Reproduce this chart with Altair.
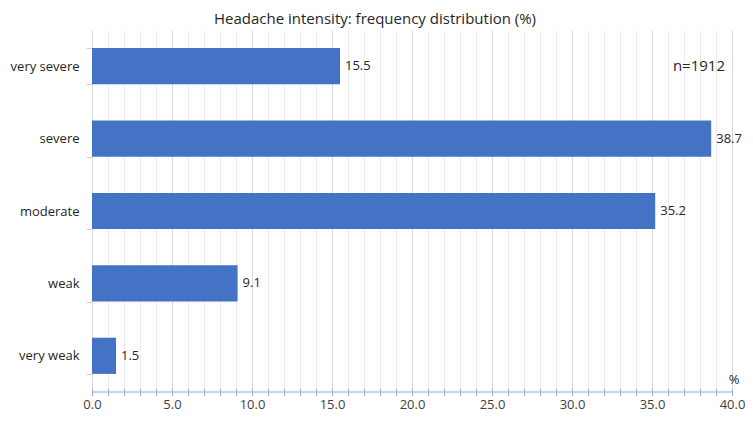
import altair as alt
import pandas as pd

categories = ["very severe", "severe", "moderate", "weak", "very weak"]
values = [15.5, 38.7, 35.2, 9.1, 1.5]
title_text = "Headache intensity: frequency distribution (%)"
n_label = "n=1912"
unit_label = "%"
tick_values = list(range(0, 41))

df = pd.DataFrame({"category": categories, "value": values})

FONT = "Open Sans"
W, H = 640, 362

xscale = alt.Scale(domain=[0, 40], nice=False, zero=True)
yscale = alt.Scale(domain=categories, paddingInner=0.5, paddingOuter=0.25)

xaxis = alt.Axis(
    values=tick_values,
    title=None,
    labelExpr="datum.value % 5 == 0 ? format(datum.value, '.1f') : ''",
    labelFont=FONT, labelFontSize=13, labelColor="#404040",
    labelPadding=3, labelFlush=False, labelOverlap=False,
    grid=True,
    gridColor={"condition": {"test": "datum.value % 5 == 0", "value": "#d9d9d9"}, "value": "#ececec"},
    gridWidth=1,
    domain=False,
    ticks=True, tickSize=7, tickColor="#8faadc", tickWidth=1,
    offset=-3.5,
)

yaxis = alt.Axis(
    title=None,
    labelFont=FONT, labelFontSize=13, labelColor="#262626",
    labelPadding=7,
    ticks=True, tickBand="extent", tickSize=6, tickColor="#d0d0d0",
    domain=False, grid=False,
)

X = lambda: alt.X("value:Q", scale=xscale, axis=xaxis)
Y = lambda: alt.Y("category:N", scale=yscale, sort=categories, axis=yaxis)

base = alt.Chart(df)

bars = base.mark_bar(color="#4472c4").encode(x=X(), y=Y())

labels = base.mark_text(align="left", baseline="middle", dx=5, font=FONT, fontSize=13, color="#262626").encode(
    x=X(), y=Y(),
    text=alt.Text("value:Q", format=".1f"),
)

ndf = pd.DataFrame({"category": [categories[0]], "value": [40], "t": [n_label]})
ntext = alt.Chart(ndf).mark_text(align="right", baseline="middle", dx=-7, font=FONT, fontSize=15, color="#262626").encode(
    x=X(), y=Y(),
    text="t:N",
)

udf = pd.DataFrame({"value": [40], "t": [unit_label]})
utext = alt.Chart(udf).mark_text(align="center", baseline="middle", dx=2, font=FONT, fontSize=13, color="#262626").encode(
    x=X(),
    y=alt.value(H - 12),
    text="t:N",
)

domain_line = alt.Chart(udf).mark_rule(color="#8faadc", strokeWidth=1.2).encode(
    x=alt.value(0), x2=alt.value(W), y=alt.value(H)
)

chart = alt.layer(bars, labels, ntext, utext, domain_line).properties(
    width=W, height=H,
    title=alt.TitleParams(title_text, font=FONT, fontSize=15, fontWeight="normal", color="#262626",
                          anchor="middle", frame="group", dx=-37, offset=-3),
    autosize=alt.AutoSizeParams(type="none"),
    padding={"left": 84, "top": 22, "right": 13, "bottom": 21},
).configure_view(stroke=None)

chart.save("out.html", embed_options={"renderer": "svg", "actions": False})
